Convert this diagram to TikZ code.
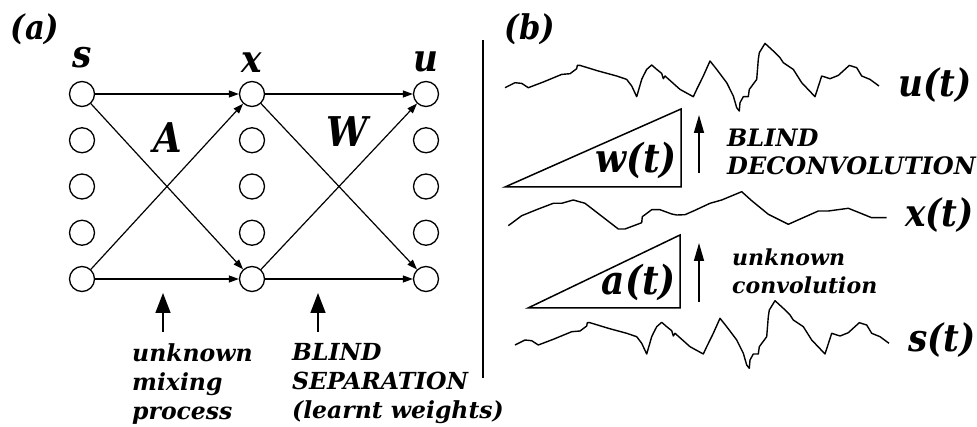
\documentclass[tikz,border=0pt]{standalone}
\usepackage{fontspec}
\setmainfont{DejaVu Serif}
\newfontfamily\narrowfont{DejaVu Serif Condensed}
\usetikzlibrary{positioning,arrows.meta}
\newcommand{\fsz}[2]{\fontsize{#1}{#2}\selectfont\bfseries\itshape}
\newcommand{\nsz}[2]{\narrowfont\fontsize{#1}{#2}\selectfont\bfseries\itshape}
% source signal, drawn again (shifted) as the recovered one
\def\srcwave{(0,0) -- (10,-5) -- (16.7,-4.3) -- (23.3,0) -- (38.3,-5.7) -- (56.7,-13.3) -- (65,-14) -- (71.7,-19) -- (72.3,-22.3) -- (75,-22.3) -- (93.3,-16.7) -- (111.7,-11.7) -- (121.7,-8.3) -- (126.7,-1.7) -- (131.7,9) -- (136.7,-8.3) -- (138.3,-11.7) -- (141.7,-18.3) -- (146.7,-22.7) -- (151.7,-18.3) -- (156.7,-14.3) -- (158.3,-9) -- (160,-11.7) -- (175,1.7) -- (188.3,9) -- (191.7,1.7) -- (198.3,-11.7) -- (205,-26.7) -- (211.7,-18.3) -- (221.7,-5) -- (228.3,8.3) -- (231.7,20) -- (234.3,23.3) -- (235,15) -- (238.3,9) -- (243.3,9) -- (244.3,1.7) -- (251.7,-8.3) -- (253.3,-28.3) -- (254.3,-35) -- (260,-44.3) -- (268.3,-36.7) -- (275,-30) -- (278.3,-25) -- (288.3,-18.3) -- (296.7,-5) -- (310,9) -- (316.7,-11.7) -- (325,-9) -- (333.3,-12.3) -- (344.3,-22.3) -- (351.7,-20) -- (356.7,-11.7) -- (365,-8.3) -- (374,-1.7)}

\begin{document}
\begin{tikzpicture}[x=1pt,y=-1pt,every node/.style={inner sep=0pt},
  unit/.style={draw,circle,line width=1.3pt,minimum size=25pt},
  conn/.style={-{Triangle[length=10pt,width=7pt]},line width=1.2pt},
  cue/.style={-{Triangle[length=20pt,width=15pt]},line width=1.5pt},
  up/.style={-{Triangle[length=18pt,width=10pt]},line width=1.5pt},
  wave/.style={line width=1.4pt,line join=round}]
\useasboundingbox (0,0) rectangle (977,427);

% (a) mixing / unmixing network
\node[font=\nsz{34}{40}] (tagA) at (35,29) {(a)};
\foreach \i in {1,...,5}{
  \node[unit] (s\i) at (82,{94+46.25*(\i-1)}) {};
  \node[unit] (x\i) at (252,{94+46.25*(\i-1)}) {};
  \node[unit] (u\i) at (426,{94+46.25*(\i-1)}) {};
}
\node[font=\nsz{38}{40},above=13pt of s1] (slab) {s};
\node[font=\nsz{38}{40},above=8pt of x1] (xlab) {x};
\node[font=\nsz{38}{40},above=9pt of u1] (ulab) {u};
\foreach \a/\b in {s1/x1,s1/x5,s5/x1,s5/x5,x1/u1,x1/u5,x5/u1,x5/u5}
  \draw[conn] (\a) -- (\b);
\node[font=\nsz{41}{44}] (matA) at (168,138) {A};
\node[font=\nsz{41}{44}] (matW) at (347,132) {W};

\coordinate (mixhead) at (163,293);
\coordinate (mixtail) at (163,332);
\coordinate (sephead) at (318,293);
\coordinate (septail) at (318,332);
\draw[cue] (mixtail) -- (mixhead);
\draw[cue] (septail) -- (sephead);
\node[font=\fsz{23.5}{29},align=left,anchor=north west] (mixtxt) at (132,343) {unknown\\mixing\\process};
\node[font=\fsz{23.5}{29},align=left,anchor=north west] (septxt) at (292,343) {BLIND\\SEPARATION\\(learnt weights)};

\draw[line width=1.5pt] (483,40) -- (483,378);

% (b) convolution / deconvolution
\node[font=\nsz{34}{40}] (tagB) at (530,29) {(b)};
\draw[wave,shift={(505,87.7)}] \srcwave;
\draw[wave] (508.3,225.7) -- (521.7,215.7) -- (538.3,209) -- (553.3,203.3) -- (561.7,203.3) -- (573.3,200) -- (585,203.3) -- (618.3,229) -- (625,229) -- (641.7,222.7) -- (642.3,216.7) -- (651.7,209.7) -- (660,209.7) -- (671.7,214) -- (676.7,215) -- (685,214.7) -- (695,210.3) -- (710,203.3) -- (721.7,200) -- (741.7,191.7) -- (751.7,200.7) -- (768.3,214.3) -- (788.3,224.3) -- (818.3,211) -- (828.3,211) -- (848.3,208.3) -- (871.7,217.7) -- (886.7,217.7);
\draw[wave,shift={(515,345)}] \srcwave;
\node[font=\nsz{38}{40},anchor=west] (ut) at (898,85) {u(t)};
\node[font=\nsz{38}{40},anchor=west] (xt) at (905,215) {x(t)};
\node[font=\nsz{38}{40},anchor=west] (st) at (908,340) {s(t)};

\draw[line width=1.5pt] (505,187) -- (681,187) -- (681,109) -- cycle;
\draw[line width=1.5pt] (528,308) -- (680,308) -- (680,235) -- cycle;
\node[font=\nsz{40}{44},anchor=east] (wt) at (677,160) {w(t)};
\node[font=\nsz{40}{44},anchor=east] (at) at (676,282) {a(t)};

\coordinate (wtail) at (699,173);
\coordinate (whead) at (699,115);
\coordinate (atail) at (699,302);
\coordinate (ahead) at (699,243);
\draw[up] (wtail) -- (whead);
\draw[up] (atail) -- (ahead);
\node[font=\fsz{24}{28},align=left,anchor=north west] (deconv) at (727,128.5) {BLIND\\DECONVOLUTION};
\node[font=\fsz{22}{28},align=left,anchor=north west] (conv) at (732,249) {unknown\\convolution};
\end{tikzpicture}
\end{document}
